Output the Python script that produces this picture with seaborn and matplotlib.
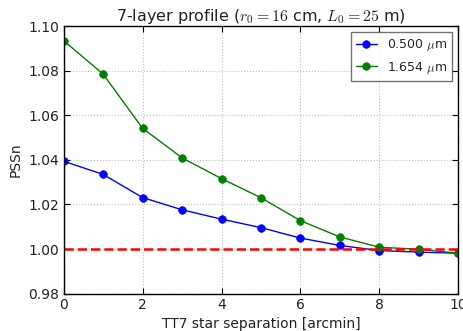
import matplotlib
matplotlib.use("Agg")
import matplotlib.pyplot as plt
import seaborn as sns
import pandas as pd

# PSSn versus TT7 star separation for two wavelengths
separation = [0, 1, 2, 3, 4, 5, 6, 7, 8, 9, 10]
pssn_0500 = [1.0394, 1.0335, 1.0231, 1.0176, 1.0134, 1.0096, 1.0049, 1.0016, 0.9993, 0.9986, 0.9981]
pssn_1654 = [1.0935, 1.0785, 1.0542, 1.0409, 1.0316, 1.0230, 1.0127, 1.0054, 1.0008, 0.9999, 0.9981]
labels = [r"0.500 $\mu$m", r"1.654 $\mu$m"]
colors = ["#0000ff", "#007f00"]
x_ticks = [0, 2, 4, 6, 8, 10]
y_ticks = [0.98, 1.00, 1.02, 1.04, 1.06, 1.08, 1.10]

df = pd.DataFrame({
    "sep": separation * 2,
    "pssn": pssn_0500 + pssn_1654,
    "band": [labels[0]] * len(separation) + [labels[1]] * len(separation),
})

sns.set_style("whitegrid", {
    "grid.color": "0.75",
    "grid.linestyle": ":",
    "axes.edgecolor": "black",
    "xtick.direction": "in",
    "ytick.direction": "in",
})
plt.rcParams["font.family"] = ["DejaVu Sans"]
plt.rcParams["mathtext.fontset"] = "cm"
plt.rcParams["font.size"] = 10

fig = plt.figure(figsize=(4.64, 3.31), dpi=100)
ax = fig.add_axes([0.137, 0.113, 0.851, 0.808])

sns.lineplot(data=df, x="sep", y="pssn", hue="band", palette=colors,
             marker="o", markersize=5.5, markeredgewidth=0.5, linewidth=1.0,
             ax=ax)
for line in ax.lines:
    line.set_markeredgecolor(line.get_color())

ax.axhline(1.0, color="red", linestyle="--", linewidth=1.8)

ax.set_xlim(0, 10)
ax.set_ylim(0.98, 1.10)
ax.set_xticks(x_ticks)
ax.set_yticks(y_ticks)
ax.set_yticklabels([f"{v:.2f}" for v in y_ticks])
ax.tick_params(axis="both", labelsize=10, length=4, color="black", width=0.8,
               top=True, right=True, bottom=True, left=True, pad=3,
               labelcolor="#222222")
for sp in ax.spines.values():
    sp.set_linewidth(1.0)
    sp.set_color("black")

ax.set_xlabel("TT7 star separation [arcmin]", fontsize=10, color="#222222")
ax.set_ylabel("PSSn", fontsize=10, color="#222222")
ax.set_title(r"7-layer profile ($r_0=16$ cm, $L_0=25$ m)", fontsize=11.5, pad=4,
             color="#222222")

leg = ax.legend(loc="upper right", fontsize=9, frameon=True, fancybox=False,
                borderaxespad=0.5, handlelength=1.7)
leg.get_frame().set_edgecolor("0.3")
leg.get_frame().set_linewidth(1.0)

fig.savefig("out.png", dpi=100)
